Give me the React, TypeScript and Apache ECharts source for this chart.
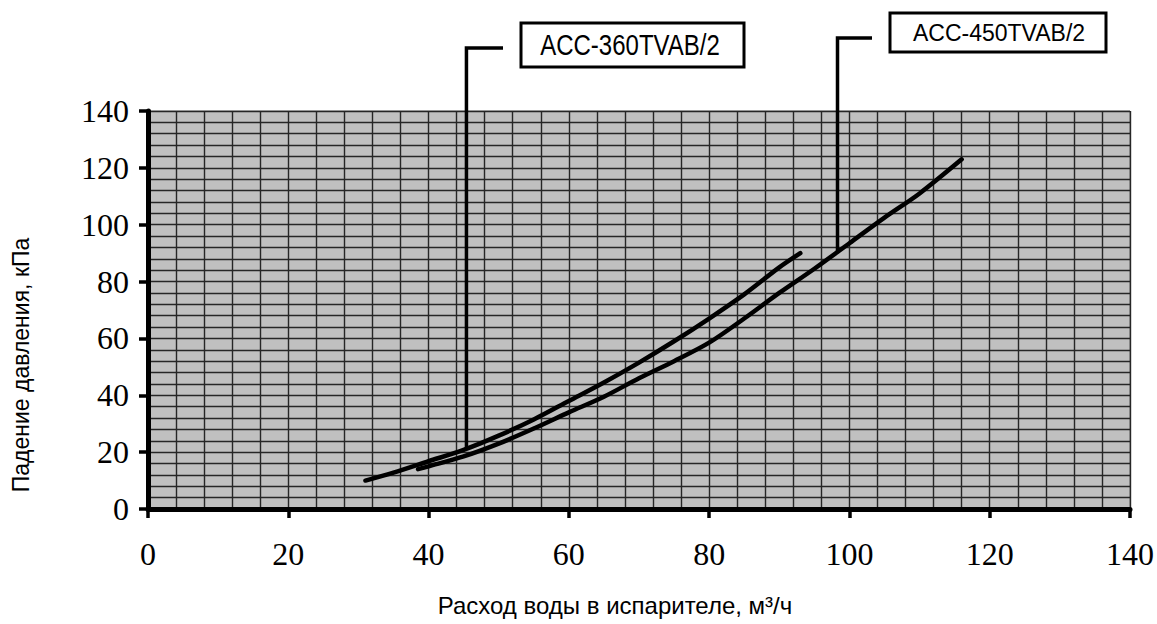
import React, { useEffect, useRef } from 'react';
import * as echarts from 'echarts';

// Data (m³/h vs kPa)
const series360Name = 'ACC-360TVAB/2';
const series360X = [31, 35, 40, 45, 50, 55, 60, 65, 70, 75, 80, 85, 90, 93];
const series360Y = [10, 12.8, 16.8, 20.8, 25.8, 31.5, 38, 44.5, 51.5, 59, 67, 75.5, 85, 90];

const series450Name = 'ACC-450TVAB/2';
const series450X = [38.5, 40, 45, 50, 55, 60, 65, 70, 75, 80, 85, 90, 95, 100, 105, 110, 116];
const series450Y = [14, 15, 18.5, 23, 28.3, 34, 39.5, 46, 52, 58.5, 67, 76, 84.5, 93.5, 102.5, 111, 123];

const axisMin = 0;
const axisMax = 140;
const majorStep = 20;

const leader360 = [45.4, 20.8];
const leader450 = [98.3, 90];

const xAxisName = 'Расход воды в испарителе, м³/ч';
const yAxisName = 'Падение давления, кПа';

const W = 1157;
const H = 624;

export default function App() {
  const ref = useRef<HTMLDivElement>(null);
  useEffect(() => {
    if (!ref.current) return;
    const chart = echarts.init(ref.current, null, { renderer: 'svg', width: W, height: H });
    const gridLine = { show: true, lineStyle: { color: '#262626', width: 1.4 } };
    const axisCommon = {
      type: 'value' as const,
      min: axisMin,
      max: axisMax,
      interval: majorStep,
      axisLine: { show: true, onZero: false, lineStyle: { color: '#000', width: 5 } },
      axisTick: { show: true, length: 9, lineStyle: { color: '#000', width: 3.5 } },
      minorTick: { show: false, splitNumber: 5 },
      splitLine: gridLine,
      minorSplitLine: gridLine,
      axisLabel: {
        color: '#000',
        fontFamily: '"Liberation Serif", "DejaVu Serif", serif',
        fontSize: 32,
      },
    };
    const toPairs = (xs: number[], ys: number[]) => xs.map((x, i) => [x, ys[i]]);
    chart.setOption({
      animation: false,
      backgroundColor: '#fff',
      grid: {
        left: 148,
        right: W - 1132,
        top: 111,
        bottom: H - 509,
        show: true,
        backgroundColor: '#c0c0c0',
        borderColor: '#7a7a7a',
        borderWidth: 1,
      },
      xAxis: { ...axisCommon, axisLabel: { ...axisCommon.axisLabel, margin: 29 } },
      yAxis: { ...axisCommon, axisLabel: { ...axisCommon.axisLabel, margin: 19 } },
      series: [
        {
          name: series360Name,
          type: 'line',
          data: toPairs(series360X, series360Y),
          showSymbol: false,
          smooth: 0.3,
          lineStyle: { color: '#000', width: 4.5, cap: 'round' },
        },
        {
          name: series450Name,
          type: 'line',
          data: toPairs(series450X, series450Y),
          showSymbol: false,
          smooth: 0.3,
          lineStyle: { color: '#000', width: 4.5, cap: 'round' },
        },
      ],
    });

    const p1 = chart.convertToPixel({ gridIndex: 0 }, leader360) as number[];
    const p2 = chart.convertToPixel({ gridIndex: 0 }, leader450) as number[];
    const lineStyle = { stroke: '#000', lineWidth: 3.5, fill: null, lineJoin: 'miter' };
    chart.setOption({
      graphic: [
        { type: 'polyline', shape: { points: [[503, 48], [p1[0], 48], [p1[0], p1[1]]] }, style: lineStyle, z: 100 },
        { type: 'polyline', shape: { points: [[872, 38], [p2[0], 38], [p2[0], p2[1]]] }, style: lineStyle, z: 100 },
        { type: 'rect', shape: { x: 521, y: 23, width: 223, height: 44 }, style: { fill: '#fff', stroke: '#000', lineWidth: 3 }, z: 100 },
        { type: 'rect', shape: { x: 890, y: 13, width: 216, height: 39 }, style: { fill: '#fff', stroke: '#000', lineWidth: 3 }, z: 100 },
        {
          type: 'text', x: 630, y: 45, scaleX: 0.8, z: 101,
          style: { text: series360Name, fill: '#000', fontSize: 30, fontFamily: '"Liberation Sans", Arial, sans-serif', align: 'center', verticalAlign: 'middle' },
        },
        {
          type: 'text', x: 999, y: 33, scaleX: 1.0, z: 101,
          style: { text: series450Name, fill: '#000', fontSize: 23, fontFamily: '"Liberation Sans", Arial, sans-serif', align: 'center', verticalAlign: 'middle' },
        },
        {
          type: 'text', x: 615, y: 605, z: 101,
          style: { text: xAxisName, fill: '#000', fontSize: 24, fontFamily: '"Liberation Sans", Arial, sans-serif', align: 'center', verticalAlign: 'middle' },
        },
        {
          type: 'text', x: 21, y: 365, rotation: Math.PI / 2, z: 101,
          style: { text: yAxisName, fill: '#000', fontSize: 23, fontFamily: '"Liberation Sans", Arial, sans-serif', align: 'center', verticalAlign: 'middle' },
        },
      ],
    });
    return () => chart.dispose();
  }, []);
  return <div ref={ref} style={{ position: 'fixed', left: 0, top: 0, width: W, height: H }} />;
}
